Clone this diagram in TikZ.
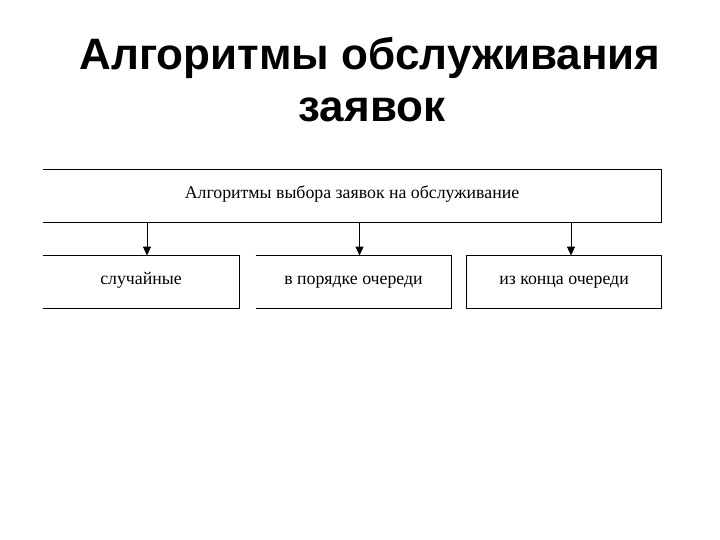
\documentclass[tikz,border=0pt]{standalone}
\usepackage{fontspec}
\setmainfont{Liberation Serif}
\newfontfamily\titlefont{Liberation Sans}
\usetikzlibrary{positioning,arrows.meta}
\tikzset{
  box/.style={minimum width=#1, minimum height=52pt, inner sep=0pt, text height=1.45ex, text depth=0.25ex, font=\fontsize{17.8}{20}\selectfont},
  box/.default=196pt,
  title/.style={font=\titlefont\bfseries\fontsize{44}{52}\selectfont, anchor=base, inner sep=0pt}
}
\begin{document}
\begin{tikzpicture}[x=1pt, y=-1pt, line width=0.9pt, >={Stealth[length=9pt, width=8pt, inset=0pt]}]
		\useasboundingbox (0,0) rectangle (720,540);
		% titolo
		\node[title] (title1) at (370,70) {Алгоритмы обслуживания};
		\node[title] (title2) at (372,122) {заявок};

		% riquadro superiore
		\node[box=618pt] (top) at (352,196) {Алгоритмы выбора заявок на обслуживание};
		\draw (top.north west) -- (top.north east) -- (top.south east) -- (top.south west);

		% riquadri inferiori
		\node[box] (rand) at (141,282) {случайные};
		\node[box=195pt] (fifo) at (353.5,282) {в порядке очереди};
		\node[box=194pt] (lifo) at (564,282) {из конца очереди};
		\draw (rand.north west) -- (rand.north east) -- (rand.south east) -- (rand.south west);
		\draw (fifo.north west) -- (fifo.north east) -- (fifo.south east) -- (fifo.south west);
		\draw (lifo.north west) rectangle (lifo.south east);

		% frecce
		\draw[->] ([xshift=6pt]rand.north |- top.south) -- ([xshift=6pt]rand.north);
		\draw[->] ([xshift=6pt]fifo.north |- top.south) -- ([xshift=6pt]fifo.north);
		\draw[->] ([xshift=7pt]lifo.north |- top.south) -- ([xshift=7pt]lifo.north);
	\end{tikzpicture}
\end{document}
